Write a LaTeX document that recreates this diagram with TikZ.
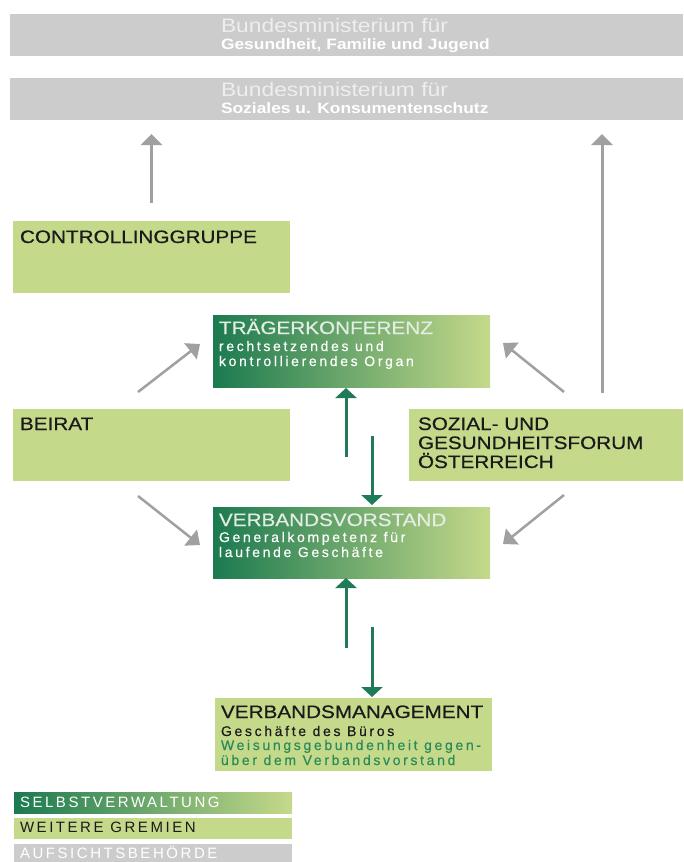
\documentclass[tikz,border=0pt]{standalone}
\usepackage{fontspec}
\setmainfont{Liberation Sans}
\newfontfamily\headfont[FakeStretch=1.15,FakeBold=0.6]{Liberation Sans}
\newfontfamily\bodyfont[LetterSpace=19,FakeBold=0.3]{Liberation Sans}
\newfontfamily\legfont[LetterSpace=17]{Liberation Sans}
\newfontfamily\minfont[FakeStretch=1.17]{Liberation Sans}
\newfontfamily\minsubfont[FakeStretch=1.16]{Liberation Sans}
\usetikzlibrary{arrows.meta}
\definecolor{lgreen}{HTML}{C5D98A}
\definecolor{dgreen}{HTML}{1B7A50}
\definecolor{agreen}{HTML}{1E7B55}
\definecolor{tgreen}{HTML}{2A8A5A}
\definecolor{boxgray}{HTML}{CCCCCC}
\definecolor{arrgray}{HTML}{A0A0A0}
\definecolor{ink}{HTML}{1A1A1A}
\definecolor{pale}{HTML}{EEEEEE}
\definecolor{paleg}{HTML}{E3EDE3}
\tikzset{
  box/.style={anchor=north west, inner sep=0pt, outer sep=0pt, draw=none},
  lbox/.style={box, fill=lgreen},
  gbox/.style={box, left color=dgreen, right color=lgreen},
  mbox/.style={box, fill=boxgray},
  txt/.style={anchor=base west, inner sep=0pt, outer sep=0pt},
  head/.style={txt, font=\headfont\fontsize{18}{20}\selectfont},
  body/.style={txt, font=\bodyfont\fontsize{14}{15}\selectfont},
  leg/.style={txt, font=\legfont\fontsize{15}{16}\selectfont},
  grayarrow/.style={draw=arrgray, line width=3pt, -{Triangle[width=21pt,length=11pt]}},
  diagarrow/.style={draw=arrgray, line width=2.5pt, -{Triangle[width=20pt,length=12pt]}},
  greenarrow/.style={draw=agreen, line width=3pt, -{Triangle[width=21pt,length=10pt]}},
}
\begin{document}
\begin{tikzpicture}[x=1pt,y=-1pt]
\useasboundingbox (0,0) rectangle (683,862);
% ministries
\node[mbox, minimum width=673pt, minimum height=42pt] (bm1) at (10,14) {};
\node[txt, text=pale, font=\minfont\fontsize{19.5}{20}\selectfont] (bm1a) at (221,32) {Bundesministerium für};
\node[txt, text=white, font=\minsubfont\bfseries\fontsize{15}{16}\selectfont] (bm1b) at (221,49) {Gesundheit, Familie und Jugend};
\node[mbox, minimum width=673pt, minimum height=42pt] (bm2) at (10,78) {};
\node[txt, text=pale, font=\minfont\fontsize{19.5}{20}\selectfont] (bm2a) at (221,96) {Bundesministerium für};
\node[txt, text=white, font=\minsubfont\bfseries\fontsize{15}{16}\selectfont] (bm2b) at (221,113) {Soziales u. Konsumentenschutz};
% boxes
\node[lbox, minimum width=277pt, minimum height=72pt] (ctrl) at (13,221) {};
\node[head, text=ink] (ctrlt) at (20,243) {CONTROLLINGGRUPPE};
\node[gbox, minimum width=277pt, minimum height=72pt] (traeger) at (213,315) {};
\node[head, text=paleg] (traegert) at (219,334) {TRÄGERKONFERENZ};
\node[body, text=white] (traeger1) at (219,351) {rechtsetzendes und};
\node[body, text=white] (traeger2) at (219,366) {kontrollierendes Organ};
\node[lbox, minimum width=277pt, minimum height=72pt] (beirat) at (13,409) {};
\node[head, text=ink] (beiratt) at (20,430) {BEIRAT};
\node[lbox, minimum width=274pt, minimum height=72pt] (sozial) at (409,409) {};
\node[head, text=ink] (sozial1) at (418,430) {SOZIAL- UND};
\node[head, text=ink] (sozial2) at (418,449) {GESUNDHEITSFORUM};
\node[head, text=ink] (sozial3) at (418,468) {ÖSTERREICH};
\node[gbox, minimum width=277pt, minimum height=71pt] (vorstand) at (213,507) {};
\node[head, text=paleg] (vorstandt) at (219,526) {VERBANDSVORSTAND};
\node[body, text=white] (vorstand1) at (219,542) {Generalkompetenz für};
\node[body, text=white] (vorstand2) at (219,557) {laufende Geschäfte};
\node[lbox, minimum width=277pt, minimum height=73pt] (mgmt) at (215,698) {};
\node[head, text=ink] (mgmtt) at (221,718) {VERBANDSMANAGEMENT};
\node[body, text=ink] (mgmt1) at (221,736) {Geschäfte des Büros};
\node[body, text=tgreen] (mgmt2) at (221,750) {Weisungsgebundenheit gegen-};
\node[body, text=tgreen] (mgmt3) at (221,765) {über dem Verbandsvorstand};
% legend
\node[gbox, minimum width=278pt, minimum height=21pt] (leg1) at (14,792) {};
\node[leg, text=white] (leg1t) at (20,807) {SELBSTVERWALTUNG};
\node[lbox, minimum width=278pt, minimum height=21pt] (leg2) at (14,818) {};
\node[leg, text=ink] (leg2t) at (20,832) {WEITERE GREMIEN};
\node[mbox, minimum width=278pt, minimum height=22pt] (leg3) at (14,844) {};
\node[leg, text=white] (leg3t) at (20,858) {AUFSICHTSBEHÖRDE};
% gray arrows
\draw[grayarrow, shorten <=18pt, shorten >=14pt] (ctrl.north) -- (ctrl.north |- bm2.south);
\draw[grayarrow, shorten <=16pt, shorten >=14pt] ([xshift=56pt]sozial.north) -- ([xshift=56pt]sozial.north |- bm2.south);
\draw[diagarrow] ([shift={(125,-17)}]beirat.north west) -- ([shift={(-13,-43)}]traeger.south west);
\draw[diagarrow] ([shift={(125,15)}]beirat.south west) -- ([shift={(-13,38)}]vorstand.north west);
\draw[diagarrow] ([shift={(155,-17)}]sozial.north west) -- ([shift={(13,-44)}]traeger.south east);
\draw[diagarrow] ([shift={(155,14)}]sozial.south west) -- ([shift={(13,37)}]vorstand.north east);
% green arrows
\draw[greenarrow, shorten <=50pt, shorten >=1pt] ([xshift=-5.5pt]vorstand.north) -- ([xshift=-5.5pt]traeger.south);
\draw[greenarrow, shorten <=49pt, shorten >=2pt] ([xshift=20.5pt]traeger.south) -- ([xshift=20.5pt]vorstand.north);
\draw[greenarrow, shorten <=50pt, shorten >=0pt] ([xshift=-5.5pt]vorstand.south |- mgmt.north) -- ([xshift=-5.5pt]vorstand.south);
\draw[greenarrow, shorten <=49pt, shorten >=1pt] ([xshift=20.5pt]vorstand.south) -- ([xshift=20.5pt]vorstand.south |- mgmt.north);
\end{tikzpicture}
\end{document}
